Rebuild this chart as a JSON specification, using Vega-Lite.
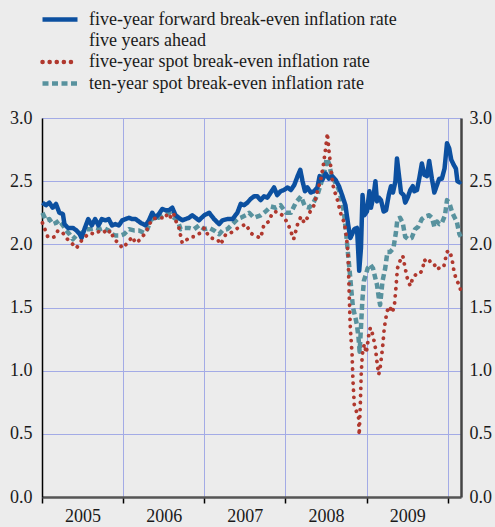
{
  "$schema": "https://vega.github.io/schema/vega-lite/v6.json",
  "width": 419,
  "height": 379,
  "autosize": {"type": "none"},
  "padding": {"left": 42, "top": 118, "right": 34, "bottom": 30},
  "background": "#ececec",
  "config": {
    "view": {"stroke": null, "fill": "#ececec"},
    "font": "Liberation Serif",
    "axis": {"labelFont": "Liberation Serif", "labelFontSize": 18, "labelColor": "#1a1a1a", "gridColor": "#a3abe6", "gridWidth": 1, "gridOpacity": 1, "title": null, "labelFlush": false}
  },
  "encoding": {
    "x": {
      "field": "date", "type": "temporal",
      "scale": {"type": "utc", "domain": [{"year": 2005, "month": 1, "date": 1, "utc": true}, {"year": 2010, "month": 3, "date": 1, "utc": true}]},
      "axis": {
        "values": [{"year": 2005, "month": 1, "date": 1, "utc": true}, {"year": 2006, "month": 1, "date": 1, "utc": true}, {"year": 2007, "month": 1, "date": 1, "utc": true}, {"year": 2008, "month": 1, "date": 1, "utc": true}, {"year": 2009, "month": 1, "date": 1, "utc": true}, {"year": 2010, "month": 1, "date": 1, "utc": true}],
        "labelExpr": "utcyear(datum.value) >= 2010 ? '' : utcFormat(datum.value, '%Y')",
        "labelOffset": 40.5, "labelAlign": "center", "labelOverlap": false,
        "grid": true, "tickSize": 6, "tickColor": "#000", "tickWidth": 1.5,
        "domainColor": "#555", "domainWidth": 2.5, "labelPadding": 4, "title": null
      }
    }
  },
  "layer": [
    {
      "data": {"values": [
        {"date": "2005-01-03", "value": 2.25}, {"date": "2005-01-19", "value": 2.19}, {"date": "2005-02-03", "value": 2.20}, {"date": "2005-02-18", "value": 2.16}, {"date": "2005-03-05", "value": 2.17}, {"date": "2005-03-20", "value": 2.19}, {"date": "2005-04-05", "value": 2.15}, {"date": "2005-04-20", "value": 2.11}, {"date": "2005-05-05", "value": 2.08}, {"date": "2005-05-20", "value": 2.04}, {"date": "2005-06-05", "value": 2.07}, {"date": "2005-06-28", "value": 2.09}, {"date": "2005-07-21", "value": 2.12}, {"date": "2005-08-05", "value": 2.12}, {"date": "2005-08-28", "value": 2.13}, {"date": "2005-09-20", "value": 2.12}, {"date": "2005-10-05", "value": 2.13}, {"date": "2005-10-28", "value": 2.11}, {"date": "2005-11-12", "value": 2.08}, {"date": "2005-11-27", "value": 2.07}, {"date": "2005-12-20", "value": 2.07},
        {"date": "2006-01-05", "value": 2.08}, {"date": "2006-01-27", "value": 2.12}, {"date": "2006-02-19", "value": 2.11}, {"date": "2006-03-13", "value": 2.11}, {"date": "2006-04-05", "value": 2.09}, {"date": "2006-04-20", "value": 2.12}, {"date": "2006-05-05", "value": 2.19}, {"date": "2006-05-20", "value": 2.21}, {"date": "2006-06-11", "value": 2.21}, {"date": "2006-07-04", "value": 2.24}, {"date": "2006-07-26", "value": 2.25}, {"date": "2006-08-18", "value": 2.21}, {"date": "2006-09-02", "value": 2.19}, {"date": "2006-09-17", "value": 2.12}, {"date": "2006-10-02", "value": 2.13}, {"date": "2006-10-24", "value": 2.13}, {"date": "2006-11-16", "value": 2.12}, {"date": "2006-12-08", "value": 2.15},
        {"date": "2007-01-01", "value": 2.12}, {"date": "2007-01-23", "value": 2.13}, {"date": "2007-02-14", "value": 2.11}, {"date": "2007-03-09", "value": 2.08}, {"date": "2007-03-24", "value": 2.11}, {"date": "2007-04-15", "value": 2.12}, {"date": "2007-05-08", "value": 2.16}, {"date": "2007-05-30", "value": 2.20}, {"date": "2007-06-14", "value": 2.21}, {"date": "2007-07-07", "value": 2.23}, {"date": "2007-07-22", "value": 2.25}, {"date": "2007-08-13", "value": 2.21}, {"date": "2007-09-12", "value": 2.23}, {"date": "2007-10-04", "value": 2.26}, {"date": "2007-10-27", "value": 2.30}, {"date": "2007-11-18", "value": 2.29}, {"date": "2007-12-10", "value": 2.31},
        {"date": "2008-01-04", "value": 2.25}, {"date": "2008-01-26", "value": 2.25}, {"date": "2008-02-17", "value": 2.33}, {"date": "2008-03-11", "value": 2.38}, {"date": "2008-03-29", "value": 2.30}, {"date": "2008-04-17", "value": 2.29}, {"date": "2008-05-06", "value": 2.33}, {"date": "2008-05-24", "value": 2.39}, {"date": "2008-06-11", "value": 2.49}, {"date": "2008-06-26", "value": 2.59}, {"date": "2008-07-05", "value": 2.68}, {"date": "2008-07-15", "value": 2.64}, {"date": "2008-07-25", "value": 2.56}, {"date": "2008-08-06", "value": 2.51}, {"date": "2008-08-18", "value": 2.47}, {"date": "2008-08-29", "value": 2.43}, {"date": "2008-09-09", "value": 2.35}, {"date": "2008-09-20", "value": 2.26}, {"date": "2008-09-30", "value": 2.09}, {"date": "2008-10-09", "value": 1.92}, {"date": "2008-10-16", "value": 1.79}, {"date": "2008-10-24", "value": 1.63}, {"date": "2008-10-31", "value": 1.50}, {"date": "2008-11-11", "value": 1.42}, {"date": "2008-11-18", "value": 1.36}, {"date": "2008-11-25", "value": 1.26}, {"date": "2008-11-30", "value": 1.15}, {"date": "2008-12-06", "value": 1.34}, {"date": "2008-12-12", "value": 1.55}, {"date": "2008-12-19", "value": 1.71}, {"date": "2008-12-28", "value": 1.76},
        {"date": "2009-01-05", "value": 1.81}, {"date": "2009-01-17", "value": 1.84}, {"date": "2009-01-29", "value": 1.81}, {"date": "2009-02-09", "value": 1.73}, {"date": "2009-02-16", "value": 1.68}, {"date": "2009-02-24", "value": 1.58}, {"date": "2009-03-02", "value": 1.52}, {"date": "2009-03-13", "value": 1.71}, {"date": "2009-03-25", "value": 1.81}, {"date": "2009-04-04", "value": 1.94}, {"date": "2009-04-16", "value": 1.94}, {"date": "2009-05-01", "value": 1.97}, {"date": "2009-05-12", "value": 2.09}, {"date": "2009-05-19", "value": 2.20}, {"date": "2009-05-31", "value": 2.21}, {"date": "2009-06-12", "value": 2.17}, {"date": "2009-06-23", "value": 2.06}, {"date": "2009-07-07", "value": 2.04}, {"date": "2009-07-22", "value": 2.05}, {"date": "2009-08-06", "value": 2.12}, {"date": "2009-08-21", "value": 2.14}, {"date": "2009-09-06", "value": 2.20}, {"date": "2009-09-20", "value": 2.22}, {"date": "2009-10-09", "value": 2.23}, {"date": "2009-10-21", "value": 2.21}, {"date": "2009-11-01", "value": 2.14}, {"date": "2009-11-13", "value": 2.18}, {"date": "2009-11-23", "value": 2.16}, {"date": "2009-12-05", "value": 2.17}, {"date": "2009-12-19", "value": 2.23}, {"date": "2009-12-28", "value": 2.35},
        {"date": "2010-01-07", "value": 2.33}, {"date": "2010-01-19", "value": 2.26}, {"date": "2010-01-29", "value": 2.22}, {"date": "2010-02-10", "value": 2.18}, {"date": "2010-02-22", "value": 2.08}, {"date": "2010-02-28", "value": 2.06}
      ]},
      "mark": {"type": "line", "strokeWidth": 4.5, "strokeCap": "butt", "strokeJoin": "round"},
      "encoding": {
        "y": {"field": "value", "type": "quantitative", "scale": {"domain": [0, 3], "nice": false, "zero": false},
          "axis": {"orient": "left", "values": [0, 0.5, 1, 1.5, 2, 2.5, 3], "format": ".1f", "grid": true, "ticks": false, "domainColor": "#000", "domainWidth": 1.5, "labelPadding": 10, "title": null}},
        "color": {"datum": "ten-year spot break-even inflation rate",
          "scale": {"domain": ["five-year forward break-even inflation rate five years ahead", "five-year spot break-even inflation rate", "ten-year spot break-even inflation rate"], "range": ["#0c50a0", "#b0382e", "#58929e"]},
          "legend": {"orient": "none", "legendX": 8.5, "legendY": -108, "title": null, "symbolType": "M-2.5,0H2.5", "symbolSize": 196, "symbolStrokeWidth": 4.5, "labelFont": "Liberation Serif", "labelFontSize": 18, "labelColor": "#1a1a1a", "labelOffset": 19.5, "rowPadding": 2.5, "labelLimit": 0, "padding": 0,
            "labelExpr": "datum.label == 'five-year forward break-even inflation rate five years ahead' ? ['five-year forward break-even inflation rate', 'five years ahead'] : datum.label",
            "encoding": {"symbols": {"strokeCap": {"condition": {"test": "datum.value == 'five-year spot break-even inflation rate'", "value": "round"}, "value": "butt"}}, "labels": {"lineHeight": {"value": 21}}}}},
        "strokeDash": {"datum": "ten-year spot break-even inflation rate",
          "scale": {"domain": ["five-year forward break-even inflation rate five years ahead", "five-year spot break-even inflation rate", "ten-year spot break-even inflation rate"], "range": [[1, 0], [0.1, 7], [6, 3.5]]},
          "legend": {"orient": "none", "legendX": 8.5, "legendY": -108, "title": null, "symbolType": "M-2.5,0H2.5", "symbolSize": 196, "symbolStrokeWidth": 4.5, "labelFont": "Liberation Serif", "labelFontSize": 18, "labelColor": "#1a1a1a", "labelOffset": 19.5, "rowPadding": 2.5, "labelLimit": 0, "padding": 0,
            "labelExpr": "datum.label == 'five-year forward break-even inflation rate five years ahead' ? ['five-year forward break-even inflation rate', 'five years ahead'] : datum.label",
            "encoding": {"symbols": {"strokeCap": {"condition": {"test": "datum.value == 'five-year spot break-even inflation rate'", "value": "round"}, "value": "butt"}}, "labels": {"lineHeight": {"value": 21}}}}}
      }
    },
    {
      "data": {"values": [
        {"date": "2005-01-03", "value": 2.33}, {"date": "2005-01-19", "value": 2.31}, {"date": "2005-02-03", "value": 2.33}, {"date": "2005-02-18", "value": 2.29}, {"date": "2005-03-05", "value": 2.32}, {"date": "2005-03-20", "value": 2.25}, {"date": "2005-04-05", "value": 2.24}, {"date": "2005-04-12", "value": 2.16}, {"date": "2005-04-28", "value": 2.13}, {"date": "2005-05-20", "value": 2.13}, {"date": "2005-06-05", "value": 2.11}, {"date": "2005-06-20", "value": 2.08}, {"date": "2005-06-28", "value": 2.05}, {"date": "2005-07-13", "value": 2.13}, {"date": "2005-07-28", "value": 2.20}, {"date": "2005-08-13", "value": 2.15}, {"date": "2005-08-28", "value": 2.20}, {"date": "2005-09-12", "value": 2.15}, {"date": "2005-09-27", "value": 2.20}, {"date": "2005-10-13", "value": 2.19}, {"date": "2005-10-28", "value": 2.20}, {"date": "2005-11-12", "value": 2.15}, {"date": "2005-11-27", "value": 2.16}, {"date": "2005-12-13", "value": 2.15}, {"date": "2005-12-28", "value": 2.19},
        {"date": "2006-01-12", "value": 2.20}, {"date": "2006-01-27", "value": 2.21}, {"date": "2006-02-11", "value": 2.20}, {"date": "2006-02-26", "value": 2.20}, {"date": "2006-03-21", "value": 2.17}, {"date": "2006-04-12", "value": 2.15}, {"date": "2006-04-27", "value": 2.19}, {"date": "2006-05-12", "value": 2.25}, {"date": "2006-05-27", "value": 2.21}, {"date": "2006-06-11", "value": 2.24}, {"date": "2006-06-26", "value": 2.28}, {"date": "2006-07-11", "value": 2.27}, {"date": "2006-07-26", "value": 2.27}, {"date": "2006-08-10", "value": 2.29}, {"date": "2006-08-25", "value": 2.23}, {"date": "2006-09-09", "value": 2.21}, {"date": "2006-09-24", "value": 2.19}, {"date": "2006-10-09", "value": 2.20}, {"date": "2006-10-24", "value": 2.21}, {"date": "2006-11-08", "value": 2.23}, {"date": "2006-11-23", "value": 2.21}, {"date": "2006-12-08", "value": 2.19},
        {"date": "2007-01-01", "value": 2.23}, {"date": "2007-01-23", "value": 2.25}, {"date": "2007-02-14", "value": 2.20}, {"date": "2007-03-09", "value": 2.16}, {"date": "2007-03-24", "value": 2.19}, {"date": "2007-04-15", "value": 2.20}, {"date": "2007-05-08", "value": 2.20}, {"date": "2007-05-30", "value": 2.25}, {"date": "2007-06-14", "value": 2.32}, {"date": "2007-06-29", "value": 2.31}, {"date": "2007-07-14", "value": 2.33}, {"date": "2007-07-29", "value": 2.36}, {"date": "2007-08-13", "value": 2.38}, {"date": "2007-08-28", "value": 2.38}, {"date": "2007-09-12", "value": 2.35}, {"date": "2007-09-27", "value": 2.38}, {"date": "2007-10-12", "value": 2.37}, {"date": "2007-10-27", "value": 2.41}, {"date": "2007-11-11", "value": 2.45}, {"date": "2007-11-25", "value": 2.39}, {"date": "2007-12-10", "value": 2.42}, {"date": "2007-12-25", "value": 2.43},
        {"date": "2008-01-11", "value": 2.45}, {"date": "2008-01-26", "value": 2.43}, {"date": "2008-02-10", "value": 2.47}, {"date": "2008-02-25", "value": 2.54}, {"date": "2008-03-08", "value": 2.59}, {"date": "2008-03-18", "value": 2.50}, {"date": "2008-03-29", "value": 2.42}, {"date": "2008-04-09", "value": 2.45}, {"date": "2008-04-24", "value": 2.41}, {"date": "2008-05-09", "value": 2.42}, {"date": "2008-05-24", "value": 2.45}, {"date": "2008-06-03", "value": 2.54}, {"date": "2008-06-15", "value": 2.51}, {"date": "2008-06-30", "value": 2.56}, {"date": "2008-07-15", "value": 2.52}, {"date": "2008-07-30", "value": 2.54}, {"date": "2008-08-14", "value": 2.51}, {"date": "2008-08-29", "value": 2.46}, {"date": "2008-09-12", "value": 2.39}, {"date": "2008-09-27", "value": 2.31}, {"date": "2008-10-09", "value": 2.16}, {"date": "2008-10-19", "value": 2.05}, {"date": "2008-10-27", "value": 2.08}, {"date": "2008-11-06", "value": 2.12}, {"date": "2008-11-18", "value": 2.13}, {"date": "2008-11-22", "value": 2.00}, {"date": "2008-11-28", "value": 1.79}, {"date": "2008-12-06", "value": 1.97}, {"date": "2008-12-13", "value": 2.39}, {"date": "2008-12-21", "value": 2.23},
        {"date": "2009-01-02", "value": 2.26}, {"date": "2009-01-13", "value": 2.42}, {"date": "2009-01-20", "value": 2.29}, {"date": "2009-02-01", "value": 2.39}, {"date": "2009-02-09", "value": 2.50}, {"date": "2009-02-16", "value": 2.34}, {"date": "2009-02-24", "value": 2.37}, {"date": "2009-03-06", "value": 2.35}, {"date": "2009-03-18", "value": 2.26}, {"date": "2009-03-29", "value": 2.27}, {"date": "2009-04-10", "value": 2.39}, {"date": "2009-04-20", "value": 2.46}, {"date": "2009-04-29", "value": 2.41}, {"date": "2009-05-10", "value": 2.50}, {"date": "2009-05-17", "value": 2.68}, {"date": "2009-05-25", "value": 2.56}, {"date": "2009-06-04", "value": 2.41}, {"date": "2009-06-16", "value": 2.39}, {"date": "2009-06-23", "value": 2.33}, {"date": "2009-07-04", "value": 2.37}, {"date": "2009-07-16", "value": 2.43}, {"date": "2009-07-27", "value": 2.46}, {"date": "2009-08-03", "value": 2.42}, {"date": "2009-08-15", "value": 2.43}, {"date": "2009-08-25", "value": 2.52}, {"date": "2009-09-06", "value": 2.64}, {"date": "2009-09-17", "value": 2.55}, {"date": "2009-09-29", "value": 2.54}, {"date": "2009-10-09", "value": 2.66}, {"date": "2009-10-21", "value": 2.52}, {"date": "2009-11-01", "value": 2.41}, {"date": "2009-11-13", "value": 2.47}, {"date": "2009-11-23", "value": 2.52}, {"date": "2009-12-05", "value": 2.52}, {"date": "2009-12-17", "value": 2.60}, {"date": "2009-12-28", "value": 2.80},
        {"date": "2010-01-07", "value": 2.76}, {"date": "2010-01-16", "value": 2.67}, {"date": "2010-01-27", "value": 2.63}, {"date": "2010-02-06", "value": 2.60}, {"date": "2010-02-13", "value": 2.50}, {"date": "2010-02-22", "value": 2.49}, {"date": "2010-02-28", "value": 2.50}
      ]},
      "mark": {"type": "line", "strokeWidth": 4.5, "strokeCap": "butt", "strokeJoin": "round"},
      "encoding": {
        "y": {"field": "value", "type": "quantitative", "scale": {"domain": [0, 3], "nice": false, "zero": false},
          "axis": {"orient": "right", "values": [0, 0.5, 1, 1.5, 2, 2.5, 3], "format": ".1f", "grid": false, "ticks": false, "domainColor": "#444", "domainWidth": 2.5, "labelPadding": 8, "title": null}},
        "color": {"datum": "five-year forward break-even inflation rate five years ahead",
          "scale": {"domain": ["five-year forward break-even inflation rate five years ahead", "five-year spot break-even inflation rate", "ten-year spot break-even inflation rate"], "range": ["#0c50a0", "#b0382e", "#58929e"]},
          "legend": {"orient": "none", "legendX": 8.5, "legendY": -108, "title": null, "symbolType": "M-2.5,0H2.5", "symbolSize": 196, "symbolStrokeWidth": 4.5, "labelFont": "Liberation Serif", "labelFontSize": 18, "labelColor": "#1a1a1a", "labelOffset": 19.5, "rowPadding": 2.5, "labelLimit": 0, "padding": 0,
            "labelExpr": "datum.label == 'five-year forward break-even inflation rate five years ahead' ? ['five-year forward break-even inflation rate', 'five years ahead'] : datum.label",
            "encoding": {"symbols": {"strokeCap": {"condition": {"test": "datum.value == 'five-year spot break-even inflation rate'", "value": "round"}, "value": "butt"}}, "labels": {"lineHeight": {"value": 21}}}}},
        "strokeDash": {"datum": "five-year forward break-even inflation rate five years ahead",
          "scale": {"domain": ["five-year forward break-even inflation rate five years ahead", "five-year spot break-even inflation rate", "ten-year spot break-even inflation rate"], "range": [[1, 0], [0.1, 7], [6, 3.5]]},
          "legend": {"orient": "none", "legendX": 8.5, "legendY": -108, "title": null, "symbolType": "M-2.5,0H2.5", "symbolSize": 196, "symbolStrokeWidth": 4.5, "labelFont": "Liberation Serif", "labelFontSize": 18, "labelColor": "#1a1a1a", "labelOffset": 19.5, "rowPadding": 2.5, "labelLimit": 0, "padding": 0,
            "labelExpr": "datum.label == 'five-year forward break-even inflation rate five years ahead' ? ['five-year forward break-even inflation rate', 'five years ahead'] : datum.label",
            "encoding": {"symbols": {"strokeCap": {"condition": {"test": "datum.value == 'five-year spot break-even inflation rate'", "value": "round"}, "value": "butt"}}, "labels": {"lineHeight": {"value": 21}}}}}
      }
    },
    {
      "data": {"values": [
        {"date": "2005-01-03", "value": 2.17}, {"date": "2005-01-16", "value": 2.11}, {"date": "2005-01-27", "value": 2.06}, {"date": "2005-02-11", "value": 2.05}, {"date": "2005-02-27", "value": 2.06}, {"date": "2005-03-14", "value": 2.11}, {"date": "2005-04-05", "value": 2.09}, {"date": "2005-04-20", "value": 2.05}, {"date": "2005-05-14", "value": 2.01}, {"date": "2005-06-05", "value": 1.97}, {"date": "2005-06-28", "value": 2.03}, {"date": "2005-07-21", "value": 2.07}, {"date": "2005-08-05", "value": 2.09}, {"date": "2005-08-28", "value": 2.08}, {"date": "2005-09-20", "value": 2.11}, {"date": "2005-10-05", "value": 2.11}, {"date": "2005-10-21", "value": 2.08}, {"date": "2005-11-05", "value": 2.11}, {"date": "2005-11-21", "value": 2.04}, {"date": "2005-12-13", "value": 2.01}, {"date": "2005-12-28", "value": 1.97},
        {"date": "2006-01-20", "value": 2.01}, {"date": "2006-02-11", "value": 2.06}, {"date": "2006-02-26", "value": 2.01}, {"date": "2006-03-13", "value": 2.03}, {"date": "2006-03-28", "value": 2.06}, {"date": "2006-04-12", "value": 2.09}, {"date": "2006-04-27", "value": 2.15}, {"date": "2006-05-12", "value": 2.20}, {"date": "2006-06-04", "value": 2.21}, {"date": "2006-06-26", "value": 2.21}, {"date": "2006-07-11", "value": 2.24}, {"date": "2006-07-26", "value": 2.20}, {"date": "2006-08-15", "value": 2.25}, {"date": "2006-08-25", "value": 2.19}, {"date": "2006-09-09", "value": 2.13}, {"date": "2006-09-24", "value": 2.01}, {"date": "2006-10-17", "value": 2.04}, {"date": "2006-11-01", "value": 2.06}, {"date": "2006-11-16", "value": 2.06}, {"date": "2006-12-01", "value": 2.08}, {"date": "2006-12-16", "value": 2.09},
        {"date": "2007-01-01", "value": 2.13}, {"date": "2007-01-16", "value": 2.08}, {"date": "2007-01-31", "value": 2.05}, {"date": "2007-03-01", "value": 2.04}, {"date": "2007-03-16", "value": 2.00}, {"date": "2007-04-08", "value": 2.08}, {"date": "2007-04-30", "value": 2.09}, {"date": "2007-05-23", "value": 2.12}, {"date": "2007-06-14", "value": 2.14}, {"date": "2007-07-07", "value": 2.16}, {"date": "2007-07-29", "value": 2.09}, {"date": "2007-08-13", "value": 2.07}, {"date": "2007-09-12", "value": 2.05}, {"date": "2007-09-27", "value": 2.16}, {"date": "2007-10-19", "value": 2.18}, {"date": "2007-11-03", "value": 2.25}, {"date": "2007-11-25", "value": 2.26}, {"date": "2007-12-18", "value": 2.23},
        {"date": "2008-01-11", "value": 2.17}, {"date": "2008-01-26", "value": 2.10}, {"date": "2008-02-07", "value": 2.04}, {"date": "2008-02-25", "value": 2.16}, {"date": "2008-03-11", "value": 2.22}, {"date": "2008-03-26", "value": 2.17}, {"date": "2008-04-09", "value": 2.21}, {"date": "2008-04-24", "value": 2.27}, {"date": "2008-05-09", "value": 2.31}, {"date": "2008-05-24", "value": 2.42}, {"date": "2008-06-08", "value": 2.51}, {"date": "2008-06-20", "value": 2.63}, {"date": "2008-06-30", "value": 2.76}, {"date": "2008-07-08", "value": 2.88}, {"date": "2008-07-15", "value": 2.74}, {"date": "2008-07-22", "value": 2.63}, {"date": "2008-07-30", "value": 2.51}, {"date": "2008-08-06", "value": 2.43}, {"date": "2008-08-18", "value": 2.38}, {"date": "2008-08-29", "value": 2.30}, {"date": "2008-09-08", "value": 2.23}, {"date": "2008-09-20", "value": 2.18}, {"date": "2008-09-27", "value": 2.12}, {"date": "2008-10-04", "value": 2.02}, {"date": "2008-10-09", "value": 1.92}, {"date": "2008-10-12", "value": 1.73}, {"date": "2008-10-15", "value": 1.55}, {"date": "2008-10-19", "value": 1.34}, {"date": "2008-10-27", "value": 1.13}, {"date": "2008-10-31", "value": 0.92}, {"date": "2008-11-06", "value": 0.73}, {"date": "2008-11-15", "value": 0.68}, {"date": "2008-11-25", "value": 0.63}, {"date": "2008-11-28", "value": 0.49}, {"date": "2008-12-03", "value": 0.73}, {"date": "2008-12-07", "value": 0.97}, {"date": "2008-12-12", "value": 1.13}, {"date": "2008-12-21", "value": 1.21}, {"date": "2008-12-30", "value": 1.14},
        {"date": "2009-01-10", "value": 1.28}, {"date": "2009-01-17", "value": 1.34}, {"date": "2009-01-29", "value": 1.28}, {"date": "2009-02-09", "value": 1.18}, {"date": "2009-02-16", "value": 1.07}, {"date": "2009-02-24", "value": 0.97}, {"date": "2009-03-02", "value": 1.02}, {"date": "2009-03-13", "value": 1.18}, {"date": "2009-03-21", "value": 1.34}, {"date": "2009-04-02", "value": 1.47}, {"date": "2009-04-14", "value": 1.51}, {"date": "2009-04-25", "value": 1.46}, {"date": "2009-05-05", "value": 1.51}, {"date": "2009-05-12", "value": 1.65}, {"date": "2009-05-19", "value": 1.81}, {"date": "2009-05-31", "value": 1.87}, {"date": "2009-06-12", "value": 1.91}, {"date": "2009-06-23", "value": 1.81}, {"date": "2009-07-04", "value": 1.72}, {"date": "2009-07-16", "value": 1.67}, {"date": "2009-07-28", "value": 1.74}, {"date": "2009-08-10", "value": 1.76}, {"date": "2009-08-25", "value": 1.76}, {"date": "2009-09-09", "value": 1.80}, {"date": "2009-09-17", "value": 1.88}, {"date": "2009-09-29", "value": 1.85}, {"date": "2009-10-14", "value": 1.87}, {"date": "2009-10-29", "value": 1.85}, {"date": "2009-11-13", "value": 1.80}, {"date": "2009-11-28", "value": 1.82}, {"date": "2009-12-13", "value": 1.82}, {"date": "2009-12-28", "value": 1.94},
        {"date": "2010-01-08", "value": 1.95}, {"date": "2010-01-19", "value": 1.89}, {"date": "2010-01-29", "value": 1.78}, {"date": "2010-02-10", "value": 1.71}, {"date": "2010-02-22", "value": 1.68}, {"date": "2010-02-28", "value": 1.63}
      ]},
      "mark": {"type": "line", "strokeWidth": 3.8, "strokeCap": "round", "strokeJoin": "round"},
      "encoding": {
        "y": {"field": "value", "type": "quantitative", "scale": {"domain": [0, 3], "nice": false, "zero": false}, "axis": null},
        "color": {"datum": "five-year spot break-even inflation rate",
          "scale": {"domain": ["five-year forward break-even inflation rate five years ahead", "five-year spot break-even inflation rate", "ten-year spot break-even inflation rate"], "range": ["#0c50a0", "#b0382e", "#58929e"]},
          "legend": {"orient": "none", "legendX": 8.5, "legendY": -108, "title": null, "symbolType": "M-2.5,0H2.5", "symbolSize": 196, "symbolStrokeWidth": 4.5, "labelFont": "Liberation Serif", "labelFontSize": 18, "labelColor": "#1a1a1a", "labelOffset": 19.5, "rowPadding": 2.5, "labelLimit": 0, "padding": 0,
            "labelExpr": "datum.label == 'five-year forward break-even inflation rate five years ahead' ? ['five-year forward break-even inflation rate', 'five years ahead'] : datum.label",
            "encoding": {"symbols": {"strokeCap": {"condition": {"test": "datum.value == 'five-year spot break-even inflation rate'", "value": "round"}, "value": "butt"}}, "labels": {"lineHeight": {"value": 21}}}}},
        "strokeDash": {"datum": "five-year spot break-even inflation rate",
          "scale": {"domain": ["five-year forward break-even inflation rate five years ahead", "five-year spot break-even inflation rate", "ten-year spot break-even inflation rate"], "range": [[1, 0], [0.1, 7], [6, 3.5]]},
          "legend": {"orient": "none", "legendX": 8.5, "legendY": -108, "title": null, "symbolType": "M-2.5,0H2.5", "symbolSize": 196, "symbolStrokeWidth": 4.5, "labelFont": "Liberation Serif", "labelFontSize": 18, "labelColor": "#1a1a1a", "labelOffset": 19.5, "rowPadding": 2.5, "labelLimit": 0, "padding": 0,
            "labelExpr": "datum.label == 'five-year forward break-even inflation rate five years ahead' ? ['five-year forward break-even inflation rate', 'five years ahead'] : datum.label",
            "encoding": {"symbols": {"strokeCap": {"condition": {"test": "datum.value == 'five-year spot break-even inflation rate'", "value": "round"}, "value": "butt"}}, "labels": {"lineHeight": {"value": 21}}}}}
      }
    }
  ],
  "resolve": {"axis": {"y": "independent"}}
}
